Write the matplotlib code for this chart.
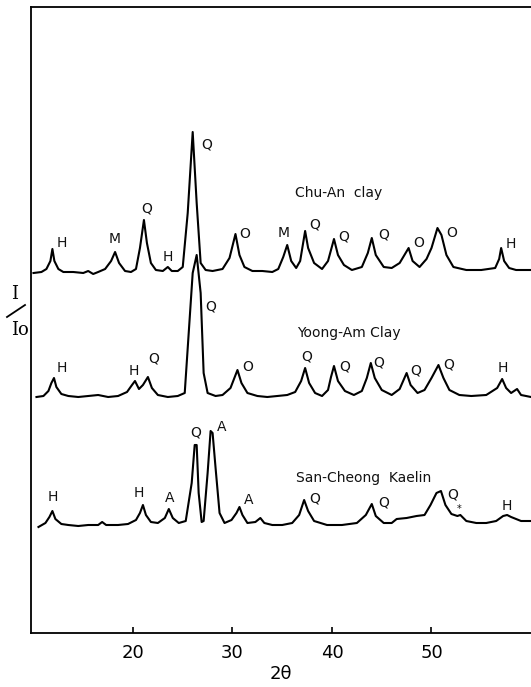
import matplotlib
matplotlib.use("Agg")
import matplotlib.pyplot as plt
from matplotlib.lines import Line2D

chuan_2t = [10.0, 10.8, 11.3, 11.7, 11.9, 12.1, 12.5, 13.0, 14.0, 15.0, 15.5, 16.0, 16.5, 17.2, 17.8, 18.2,
            18.6, 19.2, 19.8, 20.3, 20.7, 21.1, 21.4, 21.8, 22.3, 23.0, 23.5, 23.9, 24.5, 25.0, 25.5, 26.0,
            26.4, 26.8, 27.3, 28.0, 29.0, 29.7, 30.3, 30.7, 31.2, 32.0, 33.0, 34.0, 34.6, 35.1, 35.5, 35.9,
            36.4, 36.8, 37.3, 37.6, 38.2, 39.0, 39.6, 40.2, 40.6, 41.2, 42.0, 43.0, 43.6, 44.0, 44.4, 45.2,
            46.0, 46.8, 47.7, 48.1, 48.8, 49.5, 50.0, 50.6, 51.0, 51.5, 52.2, 53.5, 55.0, 56.4, 56.8, 57.0,
            57.3, 57.8, 58.5, 60.0]
chuan_i = [360, 361, 364, 372, 384, 372, 364, 361, 361, 360, 362, 359, 361, 364, 372, 381,
           370, 362, 361, 364, 385, 413, 390, 370, 363, 362, 366, 362, 362, 366, 420, 501,
           430, 370, 363, 362, 364, 375, 399, 378, 366, 362, 362, 361, 364, 376, 388, 372,
           365, 372, 402, 385, 370, 364, 372, 394, 378, 368, 363, 366, 380, 395, 378, 366,
           365, 370, 385, 372, 366, 374, 385, 405, 398, 378, 366, 363, 363, 365, 374, 385,
           372, 365, 363, 363]

yoongam_2t = [10.3, 11.0, 11.5, 11.8, 12.06, 12.3, 12.8, 13.5, 14.5, 15.5, 16.5, 17.5, 18.5, 19.4, 19.9,
              20.2, 20.6, 21.0, 21.5, 21.9, 22.5, 23.5, 24.5, 25.2, 25.6, 26.0, 26.4, 26.8, 27.1, 27.5,
              28.3, 29.0, 29.8, 30.5, 30.9, 31.5, 32.5, 33.5, 34.5, 35.5, 36.3, 36.9, 37.3, 37.7, 38.3,
              39.0, 39.6, 39.9, 40.2, 40.6, 41.3, 42.2, 43.0, 43.5, 43.9, 44.3, 45.0, 46.0, 46.8, 47.5,
              47.9, 48.6, 49.3, 50.0, 50.7, 51.2, 51.8, 52.8, 54.0, 55.5, 56.6, 57.1, 57.5, 58.0, 58.6,
              59.0, 60.0]
yoongam_i = [236, 237, 242, 250, 255, 246, 239, 237, 236, 237, 238, 236, 237, 241, 248,
             252, 244, 248, 256, 245, 238, 236, 237, 240, 300, 360, 378, 340, 260, 240,
             237, 238, 245, 263, 250, 240, 237, 236, 237, 238, 241, 252, 265, 250, 240,
             237, 243, 256, 267, 252, 242, 238, 242, 255, 270, 255, 243, 238, 244, 260,
             248, 240, 243, 255, 268, 255, 243, 238, 237, 238, 245, 254, 245, 240, 244,
             238, 236]

sancheong_2t = [10.5, 11.2, 11.6, 11.9, 12.2, 12.8, 13.5, 14.5, 15.5, 16.5, 16.9, 17.3, 18.5, 19.5, 20.3,
                20.7, 21.0, 21.3, 21.8, 22.5, 23.2, 23.6, 24.0, 24.6, 25.3, 25.9, 26.2, 26.4, 26.6, 26.9,
                27.1, 27.5, 27.8, 28.0, 28.3, 28.7, 29.2, 29.9, 30.4, 30.7, 31.0, 31.5, 32.3, 32.8, 33.2,
                34.0, 35.0, 36.0, 36.7, 37.2, 37.6, 38.2, 39.5, 41.0, 42.5, 43.4, 44.0, 44.4, 45.2, 46.0,
                46.5, 47.5, 48.5, 49.3, 49.9, 50.5, 50.95, 51.4, 52.0, 52.6, 52.9, 53.5, 54.5, 55.5, 56.5,
                57.2, 57.6, 58.0, 59.0, 60.0]
sancheong_i = [106, 110, 116, 122, 114, 109, 108, 107, 108, 108, 111, 108, 108, 109, 113,
               120, 128, 118, 111, 110, 115, 124, 115, 110, 112, 150, 188, 188, 140, 111,
               112, 160, 202, 200, 165, 120, 110, 113, 120, 126, 118, 110, 111, 115, 110,
               108, 108, 110, 118, 133, 122, 112, 108, 108, 110, 118, 129, 117, 110, 110,
               114, 115, 117, 118, 128, 140, 142, 128, 119, 117, 118, 112, 110, 110, 112,
               117, 118, 116, 112, 112]

sample_names = ["Chu-An  clay", "Yoong-Am Clay", "San-Cheong  Kaelin"]
name_pos = [(36.3, 440), (36.45, 300), (36.38, 155)]

# peak labels: (2theta, intensity, letter)
chuan_labels = [(12.86, 390, "H"), (18.19, 394, "M"), (21.38, 425, "Q"), (23.49, 376, "H"),
                (27.41, 488, "Q"), (31.26, 399, "O"), (35.18, 400, "M"), (38.29, 408, "Q"),
                (41.14, 396, "Q"), (45.16, 398, "Q"), (48.67, 390, "O"), (52.03, 400, "O"),
                (57.96, 389, "H")]
yoongam_labels = [(12.83, 265, "H"), (20.10, 262, "H"), (22.11, 274, "Q"), (27.84, 326, "Q"),
                  (31.49, 266, "O"), (37.46, 276, "Q"), (41.31, 266, "Q"), (44.65, 271, "Q"),
                  (48.44, 263, "Q"), (51.69, 268, "Q"), (57.12, 265, "H")]
sancheong_labels = [(11.99, 136, "H"), (20.63, 140, "H"), (23.65, 135, "A"), (26.30, 200, "Q"),
                    (28.91, 206, "A"), (31.59, 133, "A"), (38.29, 135, "Q"), (45.16, 130, "Q"),
                    (52.13, 138, "Q"), (57.56, 127, "H")]
star_label = (52.79, 124, "*")

xticks = [20, 30, 40, 50]

# ---- figure ----
W, H = 531, 687
fig = plt.figure(figsize=(W / 100, H / 100), dpi=100)
ax = fig.add_axes([31 / W, 54 / H, 1 - 31 / W, 626 / H])
ax.set_xlim(9.75, 60.0)
ax.set_ylim(0, 626)

for xs, ys in [(chuan_2t, chuan_i), (yoongam_2t, yoongam_i), (sancheong_2t, sancheong_i)]:
    ax.plot(xs, ys, color="black", lw=1.5, solid_joinstyle="round")

lab_font = dict(family="DejaVu Sans", fontsize=10, color="#111111", ha="center", va="center")
for labs in (chuan_labels, yoongam_labels, sancheong_labels):
    for x, y, t in labs:
        ax.text(x, y, t, **lab_font)
ax.text(star_label[0], star_label[1], star_label[2], family="DejaVu Sans", fontsize=7,
        ha="center", va="center", color="#111111")

for name, (x, y) in zip(sample_names, name_pos):
    ax.text(x, y, name, family="DejaVu Sans", fontsize=10, color="#111111", ha="left", va="center")

for s in ["left", "bottom", "top"]:
    ax.spines[s].set_linewidth(1.3)
ax.spines["right"].set_visible(False)
ax.set_xticks(xticks)
ax.set_xticklabels([str(t) for t in xticks], fontsize=13, family="DejaVu Sans")
ax.tick_params(axis="x", direction="in", length=4, width=1.2, pad=8)
ax.set_yticks([])
ax.set_xlabel("2θ", fontsize=13, family="DejaVu Sans", labelpad=2)

# y label I/Io
fig.text(14.5 / W, 1 - 294 / H, "I", family="DejaVu Serif", fontsize=13, ha="center", va="center")
fig.add_artist(Line2D([7 / W, 25 / W], [1 - 317 / H, 1 - 305 / H], color="black", lw=1.3))
fig.text(20 / W, 1 - 330 / H, "Io", family="DejaVu Serif", fontsize=13, ha="center", va="center")

fig.savefig("out.png", dpi=100)
